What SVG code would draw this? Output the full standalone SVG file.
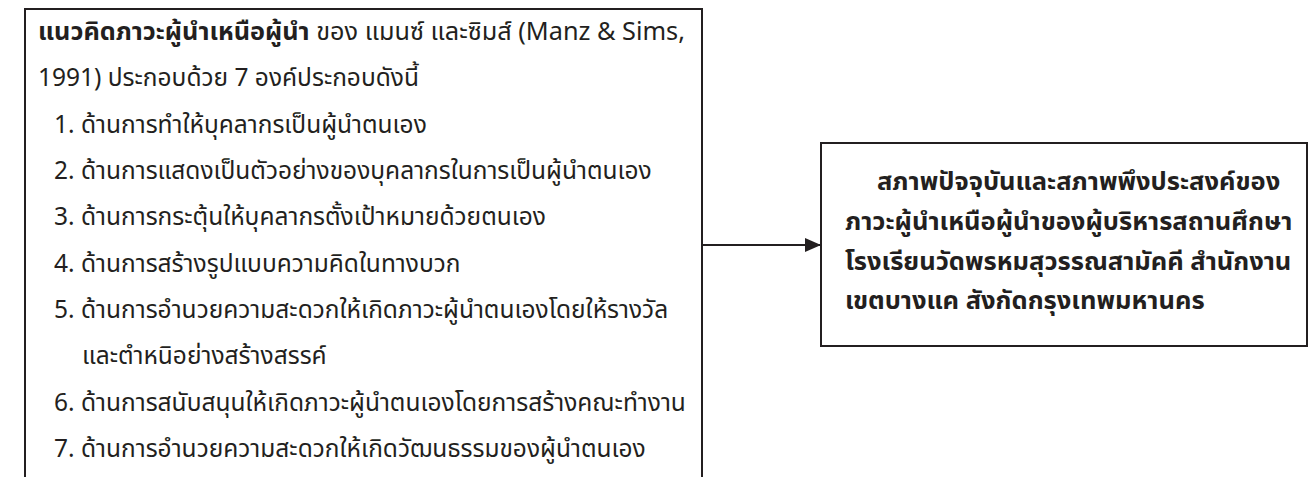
<svg xmlns="http://www.w3.org/2000/svg" width="1310" height="477" viewBox="0 0 1310 477">
<style>
.box{fill:#fff;stroke:#231f20;stroke-width:2}
.t{font-family:"Noto Sans Thai","Noto Sans","DejaVu Sans",sans-serif;font-size:24.5px;fill:#231f20}
.r{font-family:"Noto Sans Thai","Noto Sans","DejaVu Sans",sans-serif;font-size:25.5px;font-weight:bold;fill:#231f20}
.b{font-weight:bold}
.edge{stroke:#231f20;stroke-width:2;fill:none}
</style>
<defs>
<marker id="arr" markerWidth="16" markerHeight="14" refX="15" refY="7" orient="auto" markerUnits="userSpaceOnUse">
<path d="M0,0 L16,7 L0,14 Z" fill="#231f20"/>
</marker>
</defs>
<rect width="1310" height="477" fill="#fff"/>
<g id="node-framework">
<path class="box" d="M25,490 L25,9 L702,9 L702,490"/>
<text class="t" x="38" y="40" textLength="647" lengthAdjust="spacingAndGlyphs"><tspan class="b">แนวคิดภาวะผู้นำเหนือผู้นำ</tspan> ของ แมนซ์ และซิมส์ (Manz &amp; Sims,</text>
<text class="t" x="38" y="86">1991) ประกอบด้วย 7 องค์ประกอบดังนี้</text>
<text class="t" x="54" y="133">1. ด้านการทำให้บุคลากรเป็นผู้นำตนเอง</text>
<text class="t" x="54" y="179">2. ด้านการแสดงเป็นตัวอย่างของบุคลากรในการเป็นผู้นำตนเอง</text>
<text class="t" x="54" y="225">3. ด้านการกระตุ้นให้บุคลากรตั้งเป้าหมายด้วยตนเอง</text>
<text class="t" x="54" y="272">4. ด้านการสร้างรูปแบบความคิดในทางบวก</text>
<text class="t" x="54" y="318">5. ด้านการอำนวยความสะดวกให้เกิดภาวะผู้นำตนเองโดยให้รางวัล</text>
<text class="t" x="82" y="364">และตำหนิอย่างสร้างสรรค์</text>
<text class="t" x="54" y="411">6. ด้านการสนับสนุนให้เกิดภาวะผู้นำตนเองโดยการสร้างคณะทำงาน</text>
<text class="t" x="54" y="457">7. ด้านการอำนวยความสะดวกให้เกิดวัฒนธรรมของผู้นำตนเอง</text>
</g>
<g id="node-condition">
<rect class="box" x="821" y="143" width="486" height="203"/>
<text class="r" x="877" y="190">สภาพปัจจุบันและสภาพพึงประสงค์ของ</text>
<text class="r" x="845" y="230">ภาวะผู้นำเหนือผู้นำของผู้บริหารสถานศึกษา</text>
<text class="r" x="845" y="270">โรงเรียนวัดพรหมสุวรรณสามัคคี  สำนักงาน</text>
<text class="r" x="845" y="309">เขตบางแค สังกัดกรุงเทพมหานคร</text>
</g>
<g id="connectors">
<line class="edge" x1="702" y1="245" x2="820" y2="245" marker-end="url(#arr)"/>
</g>
</svg>
